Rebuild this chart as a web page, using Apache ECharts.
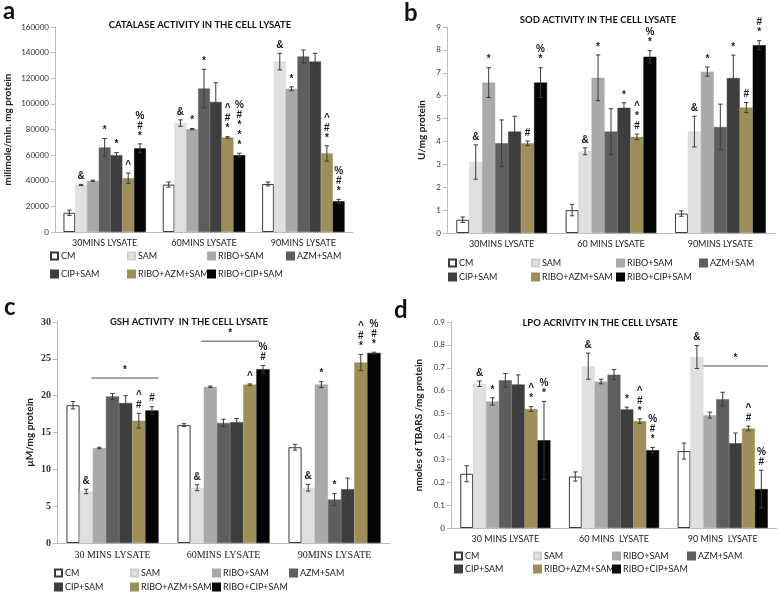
<!DOCTYPE html>
<html><head><meta charset="utf-8">
<script src="https://cdn.jsdelivr.net/npm/echarts@6/dist/echarts.min.js"></script>
<style>html,body{margin:0;padding:0;background:#fff}#c{width:778px;height:592px}</style>
</head><body><div id="c"></div>
<script>
// ---------- DATA ----------
const groups = ['CM','SAM','RIBO+SAM','AZM+SAM','CIP+SAM','RIBO+AZM+SAM','RIBO+CIP+SAM'];

// (a) Catalase
const catalaseCats = ['30MINS LYSATE','60MINS LYSATE','90MINS LYSATE'];
const catalaseMean = [
  [15000, 37000, 37500],
  [36700, 85000, 133000],
  [40000, 80300, 111800],
  [66000, 112000, 137000],
  [60000, 101500, 133000],
  [42000, 73800, 61300],
  [65300, 60000, 24000]
];
const catalaseErr = [
  [2000, 2000, 1500],
  [500, 2500, 6500],
  [500, 500, 1500],
  [7000, 15000, 5000],
  [2000, 15000, 6500],
  [4000, 600, 6000],
  [3500, 1500, 1500]
];
const catalaseMarks = [
  ['', '', ''],
  ['&', '&', '&'],
  ['', '*', '*'],
  ['*', '*', ''],
  ['*', '', ''],
  ['^', '^\n#\n*', '^\n#\n*'],
  ['%\n#\n*', '%\n#\n*\n*\n*', '%\n#\n*']
];
const catalaseBrackets = [];

// (b) SOD
const sodCats = ['30MINS LYSATE','60 MINS LYSATE','90MINS LYSATE'];
const sodMean = [
  [0.58, 1.0, 0.85],
  [3.1, 3.57, 4.43],
  [6.57, 6.78, 7.05],
  [3.92, 4.43, 4.63],
  [4.43, 5.47, 6.77],
  [3.92, 4.2, 5.48],
  [6.57, 7.7, 8.2]
];
const sodErr = [
  [0.12, 0.25, 0.12],
  [0.75, 0.15, 0.67],
  [0.65, 1.0, 0.2],
  [1.02, 1.0, 1.0],
  [0.67, 0.22, 1.0],
  [0.1, 0.12, 0.22],
  [0.65, 0.27, 0.2]
];
const sodMarks = [
  ['', '', ''],
  ['&', '&', '&'],
  ['*', '*', '*'],
  ['', '', ''],
  ['', '*', '*'],
  ['#', '^\n*\n#', '#'],
  ['%\n*', '%\n*', '#\n*']
];
const sodBrackets = [];

// (c) GSH
const gshCats = ['30 MINS LYSATE','60MINS LYSATE','90MINS LYSATE'];
const gshMean = [
  [18.7, 16.0, 13.0],
  [7.0, 7.5, 7.5],
  [12.9, 21.2, 21.5],
  [19.9, 16.3, 5.9],
  [19.0, 16.4, 7.3],
  [16.6, 21.5, 24.5],
  [18.0, 23.6, 25.8]
];
const gshErr = [
  [0.5, 0.2, 0.4],
  [0.3, 0.4, 0.45],
  [0.1, 0.1, 0.4],
  [0.4, 0.5, 0.8],
  [1.0, 0.5, 1.5],
  [1.0, 0.1, 1.1],
  [0.5, 0.5, 0.1]
];
const gshMarks = [
  ['', '', ''],
  ['&', '&', '&'],
  ['', '', '*'],
  ['', '', '*'],
  ['', '', ''],
  ['^\n#', '^', '^\n#\n*'],
  ['#', '%\n#', '%\n#\n*']
];
// [category, from bar slot, to bar slot, value, label]
const gshBrackets = [
  [0, 1.9, 7, 22.4, '*'],
  [1, 1.8, 6.2, 27.4, '*']
];

// (d) LPO
const lpoCats = ['30 MINS LYSATE','60 MINS  LYSATE','90 MINS  LYSATE'];
const lpoMean = [
  [0.237, 0.225, 0.336],
  [0.63, 0.707, 0.747],
  [0.553, 0.64, 0.493],
  [0.645, 0.67, 0.563],
  [0.627, 0.518, 0.37],
  [0.52, 0.467, 0.435],
  [0.383, 0.34, 0.17]
];
const lpoErr = [
  [0.035, 0.02, 0.035],
  [0.012, 0.057, 0.05],
  [0.016, 0.01, 0.013],
  [0.03, 0.022, 0.03],
  [0.042, 0.01, 0.045],
  [0.01, 0.01, 0.01],
  [0.17, 0.012, 0.082]
];
const lpoMarks = [
  ['', '', ''],
  ['&', '&', '&'],
  ['*', '', ''],
  ['', '', ''],
  ['', '*', ''],
  ['^\n*', '^\n#\n*', '^\n#'],
  ['%\n*', '%\n#\n*', '%\n#']
];
const lpoBrackets = [
  [2, 2, 7, 0.708, '*']
];

// ---------- STYLE ----------
const groupColors = ['#ffffff','#e0e0e0','#a9a9a9','#5e5e5e','#3e3e3e','#9e8f58','#050505'];
const SANS = 'Lato';
const SERIF = 'Liberation Serif';
const MARK_FONT = 'bold 10px "Liberation Sans"';
const CAT_GAP = 0.17;

const panels = [
  { letter:'a', title:'CATALASE ACTIVITY IN THE CELL LYSATE', titleX:200, titleY:25, letterX:3, letterY:11,
    cats:catalaseCats, mean:catalaseMean, err:catalaseErr, marks:catalaseMarks, brackets:catalaseBrackets,
    grid:{left:55, top:27, width:298, height:205}, yMax:160000, yInt:20000,
    yName:'milimole/min. mg protein', nameGap:42, font:SANS, legendX:[50,127,207,286], legendY:[256,274] },
  { letter:'b', title:'SOD ACTIVITY IN THE CELL LYSATE', titleX:598, titleY:20, letterX:404, letterY:13,
    cats:sodCats, mean:sodMean, err:sodErr, marks:sodMarks, brackets:sodBrackets,
    grid:{left:447, top:27, width:328, height:206}, yMax:9, yInt:1,
    yName:'U/mg protein', nameGap:20, font:SANS, legendX:[448,531,616,699], legendY:[263,277] },
  { letter:'c', title:'GSH ACTIVITY  IN THE CELL LYSATE', titleX:189, titleY:322, letterX:4, letterY:307,
    cats:gshCats, mean:gshMean, err:gshErr, marks:gshMarks, brackets:gshBrackets,
    grid:{left:57, top:322, width:333, height:221}, yMax:30, yInt:5,
    yName:'µM/mg protein', nameGap:22, font:SERIF, legendX:[54,130,212,289], legendY:[573,587] },
  { letter:'d', title:'LPO ACRIVITY IN THE CELL LYSATE', titleX:600, titleY:323, letterX:394, letterY:310,
    cats:lpoCats, mean:lpoMean, err:lpoErr, marks:lpoMarks, brackets:lpoBrackets,
    grid:{left:451, top:322, width:326, height:206}, yMax:0.9, yInt:0.1,
    yName:'nmoles of TBARS /mg protein', nameGap:27, font:SANS, legendX:[454,533,612,687], legendY:[556,569] }
];

const grid = [], xAxis = [], yAxis = [], series = [], legend = [], graphic = [];

panels.forEach((p, pi) => {
  grid.push(p.grid);
  xAxis.push({
    type:'category', gridIndex:pi, data:p.cats,
    axisLine:{lineStyle:{color:'#bdbdbd'}},
    axisTick:{length:5, lineStyle:{color:'#bdbdbd'}},
    axisLabel:{fontSize: p.font===SERIF ? 10 : 9, color:'#222', margin:7, fontFamily:p.font}
  });
  yAxis.push({
    type:'value', gridIndex:pi, min:0, max:p.yMax, interval:p.yInt,
    name:p.yName, nameLocation:'middle', nameGap:p.nameGap,
    nameTextStyle:{fontSize:10, fontWeight:'bold', color:'#222', fontFamily:SANS},
    axisLine:{show:true, lineStyle:{color:'#bdbdbd'}},
    axisTick:{show:true, length:4, lineStyle:{color:'#bdbdbd'}},
    splitLine:{show:false},
    axisLabel:{
      fontSize: p.font===SERIF ? 10 : 8, fontWeight: p.font===SERIF ? 'bold' : 'normal',
      color:'#333', margin:6, fontFamily:p.font,
      formatter: v => (p.yInt < 1 ? (v===0 ? '0' : v.toFixed(1)) : String(v))
    }
  });
  groups.forEach((g, gi) => {
    series.push({
      type:'bar', name:g, xAxisIndex:pi, yAxisIndex:pi, data:p.mean[gi],
      barGap:'0%', barCategoryGap:(CAT_GAP*100)+'%',
      itemStyle:{color:groupColors[gi], borderColor: gi===0 ? '#3a3a3a' : (gi===1 ? '#cfcfcf' : groupColors[gi]), borderWidth: gi===0 ? 1 : 0.5},
      emphasis:{disabled:true}
    });
  });
  // error bars + significance marks
  const eData = [], eMarks = [];
  groups.forEach((g, gi) => {
    for (let c = 0; c < p.cats.length; c++) {
      eData.push([c, gi, p.mean[gi][c], p.err[gi][c]]);
      eMarks.push(p.marks[gi][c]);
    }
  });
  series.push({
    type:'custom', xAxisIndex:pi, yAxisIndex:pi, data:eData, encode:{x:0, y:2}, z:5, silent:true,
    renderItem:(params, api) => {
      const c = api.value(0), gi = api.value(1), m = api.value(2), e = api.value(3);
      const band = api.size([1, 0])[0];
      const bw = band * (1 - CAT_GAP) / 7;
      const xc = api.coord([c, m])[0] + (gi - 3) * bw;
      const yT = api.coord([c, m + e])[1];
      const yB = api.coord([c, Math.max(0, m - e)])[1];
      const cap = 2.2;
      const ls = {stroke:'#3a3a3a', lineWidth:1};
      const children = [
        {type:'line', shape:{x1:xc, y1:yT, x2:xc, y2:yB}, style:ls},
        {type:'line', shape:{x1:xc-cap, y1:yT, x2:xc+cap, y2:yT}, style:ls},
        {type:'line', shape:{x1:xc-cap, y1:yB, x2:xc+cap, y2:yB}, style:ls}
      ];
      const mk = eMarks[params.dataIndex];
      if (mk) {
        children.push({type:'text', x:xc, y:yT - 3, style:{
          text:mk, align:'center', verticalAlign:'bottom',
          font:MARK_FONT, lineHeight:10, fill:'#1a1a1a'}});
      }
      return {type:'group', children};
    }
  });
  if (p.brackets.length) {
    series.push({
      type:'custom', xAxisIndex:pi, yAxisIndex:pi, data:p.brackets.map(b => [b[0], b[1], b[2], b[3]]),
      encode:{x:0, y:3}, z:5, silent:true,
      renderItem:(params, api) => {
        const b = p.brackets[params.dataIndex];
        const band = api.size([1, 0])[0];
        const bw = band * (1 - CAT_GAP) / 7;
        const pt = api.coord([b[0], b[3]]);
        const x0 = pt[0] - 3.5 * bw;
        const x1 = x0 + b[1] * bw, x2 = x0 + b[2] * bw;
        return {type:'group', children:[
          {type:'line', shape:{x1:x1, y1:pt[1], x2:x2, y2:pt[1]}, style:{stroke:'#8a8a8a', lineWidth:1.5}},
          {type:'text', x:(x1 + x2) / 2, y:pt[1] - 3, style:{text:b[4], align:'center', verticalAlign:'bottom',
            font:MARK_FONT, fill:'#1a1a1a'}}
        ]};
      }
    });
  }
  // legends: 4 columns, 2 rows
  for (let k = 0; k < 4; k++) {
    const names = [groups[k]];
    if (groups[k + 4]) names.push(groups[k + 4]);
    legend.push({
      data:names, orient:'vertical', left:p.legendX[k], top:p.legendY[0] - 6,
      width:120, height:60,
      itemWidth:7, itemHeight:7, itemGap:(p.legendY[1] - p.legendY[0]) - 12, padding:0,
      icon:'rect', selectedMode:false,
      textStyle:{fontSize:9, color:'#222', lineHeight:12, fontFamily:SANS, padding:[0,0,0,-2]}
    });
  }
  graphic.push({type:'text', x:p.letterX, y:p.letterY, style:{text:p.letter, font:'bold 24px ' + SANS,
    fill:'#111', align:'left', verticalAlign:'middle'}});
  graphic.push({type:'text', x:p.titleX, y:p.titleY, style:{text:p.title, font:'bold 9.5px ' + SANS,
    fill:'#111', align:'center', verticalAlign:'middle'}});
});

const chart = echarts.init(document.getElementById('c'));
chart.setOption({
  animation:false, backgroundColor:'#fff',
  textStyle:{fontFamily:SANS},
  grid, xAxis, yAxis, series, legend, graphic
});
</script>
</body></html>
